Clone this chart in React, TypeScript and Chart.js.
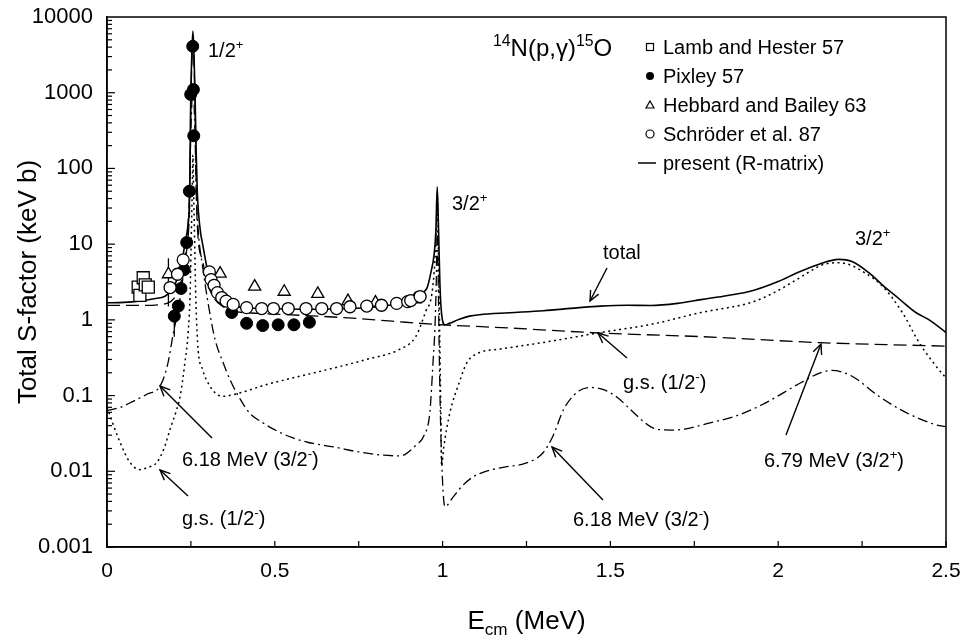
import React, { useEffect, useRef } from "react";
import { Chart, registerables } from "chart.js";
Chart.register(...registerables);

const FONT = "'Liberation Sans', Arial, Helvetica, sans-serif";

// ---- axis ticks ----
const xTickLabels = [0, 0.5, 1, 1.5, 2, 2.5];
const xTickMarks = [0, 0.25, 0.5, 0.75, 1, 1.25, 1.5, 1.75, 2, 2.25, 2.5];
const yTickLabels = [0.001, 0.01, 0.1, 1, 10, 100, 1000, 10000];

// ---- experimental data ----
const lambE = [0.093, 0.098, 0.108, 0.114, 0.123];
const lambS = [2.7, 2.1, 3.6, 2.9, 2.7];
const lambErr = [0.3, 0.3, 0.35, 0.3, 0.3];

const pixleyE = [0.2005, 0.2125, 0.2205, 0.23, 0.2375, 0.2455, 0.2494, 0.2554, 0.2575, 0.2585, 0.3716, 0.416, 0.464, 0.51, 0.557, 0.603];
const pixleyS = [1.12, 1.52, 2.6, 4.6, 10.5, 50, 950, 4100, 1100, 270, 1.25, 0.9, 0.84, 0.86, 0.86, 0.93];
const pixleyErr = [0.52, 0.3, 0.4, 0.6, 1.5, 6, 100, 400, 120, 30, 0.15, 0.12, 0.12, 0.12, 0.12, 0.12];

const hebbardE = [0.183, 0.337, 0.44, 0.528, 0.628, 0.718, 0.8, 0.918];
const hebbardS = [4.0, 4.08, 2.75, 2.35, 2.2, 1.77, 1.69, 1.87];
const hebbardErr = [2.5, 0, 0, 0, 0, 0, 0, 0];

const schroederE = [0.188, 0.21, 0.227, 0.305, 0.31, 0.319, 0.329, 0.342, 0.355, 0.376, 0.416, 0.461, 0.496, 0.54, 0.593, 0.64, 0.684, 0.724, 0.774, 0.818, 0.863, 0.896, 0.905, 0.933];
const schroederS = [2.67, 4.0, 6.2, 4.3, 3.4, 2.86, 2.29, 1.97, 1.77, 1.6, 1.45, 1.41, 1.41, 1.41, 1.41, 1.41, 1.41, 1.49, 1.52, 1.56, 1.65, 1.74, 1.8, 2.03];

// ---- R-matrix curves ----
const totalE = [0, 0.05, 0.1, 0.14, 0.173, 0.19, 0.203, 0.215, 0.222, 0.232, 0.24, 0.245, 0.247, 0.2485, 0.25, 0.253, 0.256, 0.259, 0.262, 0.264, 0.266, 0.269, 0.273, 0.279, 0.285, 0.292, 0.307, 0.332, 0.361, 0.4, 0.45, 0.5, 0.6, 0.7, 0.8, 0.85, 0.9, 0.93, 0.953, 0.965, 0.975, 0.98, 0.984, 0.988, 0.992, 0.997, 1.007, 1.02, 1.05, 1.08, 1.11, 1.2, 1.3, 1.4, 1.47, 1.55, 1.62, 1.7, 1.77, 1.85, 1.92, 2.0, 2.06, 2.12, 2.18, 2.22, 2.27, 2.31, 2.36, 2.41, 2.45, 2.5];
const totalS = [1.68, 1.7, 1.78, 1.9, 2.05, 2.4, 2.95, 4.2, 5.4, 10, 16, 30, 80, 400, 1100, 3500, 6500, 3500, 1100, 400, 150, 50, 25, 14, 10, 6.7, 3.1, 2.07, 1.6, 1.47, 1.42, 1.4, 1.38, 1.4, 1.48, 1.58, 1.8, 2.2, 2.6, 4.2, 7.5, 15, 57, 15, 3, 1.2, 0.86, 0.9, 1.02, 1.12, 1.17, 1.24, 1.32, 1.44, 1.52, 1.56, 1.55, 1.65, 1.85, 2.1, 2.4, 3.2, 4.25, 5.4, 6.3, 5.9, 4.2, 2.9, 1.9, 1.25, 1.0, 0.68];

const gsE = [0, 0.039, 0.069, 0.098, 0.12, 0.148, 0.17, 0.188, 0.205, 0.218, 0.232, 0.242, 0.248, 0.251, 0.254, 0.256, 0.258, 0.261, 0.264, 0.27, 0.285, 0.307, 0.327, 0.347, 0.4, 0.476, 0.574, 0.674, 0.773, 0.873, 0.92, 0.95, 0.968, 0.977, 0.982, 0.984, 0.987, 0.991, 0.995, 0.997, 1.003, 1.022, 1.05, 1.072, 1.11, 1.17, 1.32, 1.47, 1.62, 1.77, 1.92, 1.98, 2.04, 2.1, 2.13, 2.18, 2.22, 2.25, 2.31, 2.37, 2.42, 2.46, 2.5];
const gsS = [0.07, 0.024, 0.013, 0.0105, 0.0112, 0.013, 0.02, 0.036, 0.06, 0.098, 0.27, 0.7, 2.5, 12, 50, 150, 50, 12, 2.5, 0.5, 0.22, 0.133, 0.104, 0.098, 0.11, 0.14, 0.18, 0.23, 0.3, 0.41, 0.6, 1.3, 2.2, 6, 20, 45, 10, 0.8, 0.05, 0.0117, 0.02, 0.06, 0.15, 0.27, 0.37, 0.41, 0.52, 0.68, 0.87, 1.25, 1.7, 2.2, 3.1, 4.5, 5.3, 5.7, 5.2, 4.4, 2.8, 1.25, 0.5, 0.28, 0.17];

const s679E = [0, 0.054, 0.1, 0.163, 0.19, 0.21, 0.225, 0.235, 0.243, 0.247, 0.2485, 0.25, 0.253, 0.256, 0.259, 0.262, 0.264, 0.266, 0.27, 0.285, 0.3, 0.32, 0.345, 0.376, 0.45, 0.575, 0.72, 0.85, 0.982, 1.2, 1.47, 1.77, 2.125, 2.5];
const s679S = [1.55, 1.55, 1.55, 1.6, 1.75, 2.3, 3.8, 7, 15, 50, 250, 800, 2600, 4800, 2600, 800, 250, 50, 15, 6, 3, 1.9, 1.5, 1.31, 1.22, 1.15, 1.06, 0.96, 0.87, 0.78, 0.67, 0.6, 0.5, 0.45];

const s618E = [0, 0.04, 0.078, 0.12, 0.158, 0.18, 0.198, 0.215, 0.23, 0.24, 0.246, 0.249, 0.252, 0.256, 0.26, 0.263, 0.266, 0.272, 0.285, 0.3, 0.322, 0.345, 0.367, 0.4, 0.426, 0.46, 0.496, 0.55, 0.6, 0.675, 0.75, 0.823, 0.873, 0.92, 0.945, 0.962, 0.972, 0.977, 0.981, 0.984, 0.987, 0.991, 0.996, 1.007, 1.03, 1.06, 1.092, 1.12, 1.18, 1.25, 1.3, 1.33, 1.36, 1.4, 1.44, 1.48, 1.52, 1.55, 1.6, 1.63, 1.68, 1.72, 1.8, 1.87, 1.95, 2.07, 2.125, 2.16, 2.22, 2.3, 2.38, 2.48, 2.5];
const s618S = [0.063, 0.07, 0.084, 0.105, 0.133, 0.25, 0.68, 1.6, 5, 15, 50, 200, 600, 1200, 600, 200, 50, 15, 5, 1.8, 0.55, 0.28, 0.16, 0.085, 0.058, 0.045, 0.036, 0.028, 0.024, 0.021, 0.018, 0.0163, 0.016, 0.022, 0.03, 0.06, 0.3, 0.75, 3, 15, 3, 0.2, 0.02, 0.0034, 0.0045, 0.0065, 0.0085, 0.0097, 0.0113, 0.0129, 0.0177, 0.03, 0.065, 0.11, 0.128, 0.12, 0.095, 0.072, 0.045, 0.037, 0.035, 0.036, 0.044, 0.053, 0.075, 0.15, 0.2, 0.215, 0.18, 0.098, 0.06, 0.04, 0.039];

// ---- legend entries ----
const legendLabels = ["Lamb and Hester 57", "Pixley 57", "Hebbard and Bailey 63", "Schröder et al. 87", "present (R-matrix)"];

const toXY = (xs: number[], ys: number[]) => xs.map((x, i) => ({ x, y: ys[i] }));

type Part = { t: string; s?: "sup" | "sub" };

function rich(ctx: CanvasRenderingContext2D, x: number, cy: number, parts: Part[], size: number) {
  let cx = x;
  const base = cy + size * 0.36;
  for (const p of parts) {
    const fs = p.s ? size * 0.66 : size;
    ctx.font = `${fs}px ${FONT}`;
    const dy = p.s === "sup" ? -size * 0.42 : p.s === "sub" ? size * 0.22 : 0;
    ctx.fillText(p.t, cx, base + dy);
    cx += ctx.measureText(p.t).width;
  }
  return cx - x;
}

function arrow(ctx: CanvasRenderingContext2D, x1: number, y1: number, x2: number, y2: number) {
  ctx.beginPath();
  ctx.moveTo(x1, y1);
  ctx.lineTo(x2, y2);
  ctx.stroke();
  const a = Math.atan2(y2 - y1, x2 - x1);
  const L = 11, w = 0.42;
  ctx.beginPath();
  ctx.moveTo(x2 - L * Math.cos(a - w), y2 - L * Math.sin(a - w));
  ctx.lineTo(x2, y2);
  ctx.lineTo(x2 - L * Math.cos(a + w), y2 - L * Math.sin(a + w));
  ctx.stroke();
}

const errorBarPlugin = {
  id: "errbars",
  beforeDatasetsDraw(chart: any) {
    const ctx = chart.ctx;
    const ys = chart.scales.y;
    chart.data.datasets.forEach((ds: any, di: number) => {
      const errs = ds.errors;
      if (!errs) return;
      const meta = chart.getDatasetMeta(di);
      ctx.save();
      ctx.strokeStyle = "#000";
      ctx.lineWidth = 1.3;
      meta.data.forEach((pt: any, i: number) => {
        const e = errs[i];
        if (!e) return;
        const v = ds.data[i].y;
        const top = ys.getPixelForValue(v + e);
        const bot = ys.getPixelForValue(Math.max(v - e, 0.0011));
        ctx.beginPath();
        ctx.moveTo(pt.x, top);
        ctx.lineTo(pt.x, bot);
        ctx.stroke();
      });
      ctx.restore();
    });
  },
};

const decorPlugin = {
  id: "decor",
  afterDraw(chart: any) {
    const ctx: CanvasRenderingContext2D = chart.ctx;
    const a = chart.chartArea;
    const xs = chart.scales.x;
    const ys = chart.scales.y;
    ctx.save();
    ctx.strokeStyle = "#000";
    ctx.fillStyle = "#000";
    // frame
    ctx.lineWidth = 1.5;
    ctx.strokeRect(a.left, a.top, a.right - a.left, a.bottom - a.top);
    // inward ticks
    ctx.lineWidth = 1.2;
    xTickMarks.forEach((v) => {
      const px = xs.getPixelForValue(v);
      ctx.beginPath();
      ctx.moveTo(px, a.bottom);
      ctx.lineTo(px, a.bottom - 6);
      ctx.stroke();
    });
    for (let d = -3; d < 4; d++) {
      for (let m = 1; m <= 9; m++) {
        const py = ys.getPixelForValue(m * Math.pow(10, d));
        ctx.beginPath();
        ctx.moveTo(a.left, py);
        ctx.lineTo(a.left + (m === 1 ? 8 : 5), py);
        ctx.stroke();
      }
    }
    // axis titles
    ctx.textAlign = "left";
    ctx.textBaseline = "alphabetic";
    const tSize = 26;
    const xt: Part[] = [{ t: "E" }, { t: "cm", s: "sub" }, { t: " (MeV)" }];
    let w = 0;
    xt.forEach((p) => {
      ctx.font = `${p.s ? tSize * 0.66 : tSize}px ${FONT}`;
      w += ctx.measureText(p.t).width;
    });
    rich(ctx, (a.left + a.right) / 2 - w / 2, 620, xt, tSize);
    ctx.save();
    ctx.translate(29, (a.top + a.bottom) / 2);
    ctx.rotate(-Math.PI / 2);
    ctx.font = `${tSize}px ${FONT}`;
    ctx.textAlign = "center";
    ctx.textBaseline = "middle";
    ctx.fillText("Total S-factor (keV b)", 0, 0);
    ctx.restore();

    // legend
    ctx.textAlign = "left";
    const lx = 650, tx = 663, rows = [47, 76, 105, 134, 163];
    ctx.lineWidth = 1.2;
    ctx.strokeRect(lx - 3.5, rows[0] - 3.5, 7, 7);
    ctx.beginPath();
    ctx.arc(lx, rows[1], 4, 0, Math.PI * 2);
    ctx.fill();
    ctx.beginPath();
    ctx.moveTo(lx, rows[2] - 4);
    ctx.lineTo(lx + 4, rows[2] + 3);
    ctx.lineTo(lx - 4, rows[2] + 3);
    ctx.closePath();
    ctx.stroke();
    ctx.beginPath();
    ctx.arc(lx, rows[3], 4, 0, Math.PI * 2);
    ctx.stroke();
    ctx.lineWidth = 1.5;
    ctx.beginPath();
    ctx.moveTo(638, rows[4]);
    ctx.lineTo(656, rows[4]);
    ctx.stroke();
    legendLabels.forEach((lab, i) => rich(ctx, tx, rows[i], [{ t: lab }], 20));

    // annotations
    const fs = 20;
    rich(ctx, 208, 50, [{ t: "1/2" }, { t: "+", s: "sup" }], fs);
    rich(ctx, 493, 47, [{ t: "14", s: "sup" }, { t: "N(p," }, { t: "γ" }, { t: ")" }, { t: "15", s: "sup" }, { t: "O" }], 24);
    rich(ctx, 452, 203, [{ t: "3/2" }, { t: "+", s: "sup" }], fs);
    rich(ctx, 603, 252, [{ t: "total" }], fs);
    rich(ctx, 855, 238, [{ t: "3/2" }, { t: "+", s: "sup" }], fs);
    rich(ctx, 623, 382, [{ t: "g.s. (1/2" }, { t: "-", s: "sup" }, { t: ")" }], fs);
    rich(ctx, 182, 459, [{ t: "6.18 MeV (3/2" }, { t: "-", s: "sup" }, { t: ")" }], fs);
    rich(ctx, 182, 518, [{ t: "g.s. (1/2" }, { t: "-", s: "sup" }, { t: ")" }], fs);
    rich(ctx, 764, 460, [{ t: "6.79 MeV (3/2" }, { t: "+", s: "sup" }, { t: ")" }], fs);
    rich(ctx, 573, 519, [{ t: "6.18 MeV (3/2" }, { t: "-", s: "sup" }, { t: ")" }], fs);

    ctx.lineWidth = 1.4;
    arrow(ctx, 607, 268, 590, 301);
    arrow(ctx, 627, 358, 598, 333);
    arrow(ctx, 212, 438, 160, 386);
    arrow(ctx, 188, 496, 160, 470);
    arrow(ctx, 786, 435, 821, 344);
    arrow(ctx, 603, 500, 552, 447);
    ctx.restore();
  },
};

export default function App() {
  const ref = useRef<HTMLCanvasElement | null>(null);
  useEffect(() => {
    if (!ref.current) return;
    Chart.defaults.font.family = FONT;
    const lineDs = (label: string, xs: number[], ys: number[], dash: number[], width: number, order: number) => ({
      label,
      data: toXY(xs, ys),
      showLine: true,
      borderColor: "#000",
      backgroundColor: "#000",
      borderWidth: width,
      borderDash: dash,
      pointRadius: 0,
      cubicInterpolationMode: "monotone" as const,
      order,
    });
    const chart = new Chart(ref.current, {
      type: "scatter",
      data: {
        datasets: [
          {
            label: "Lamb and Hester 57",
            data: toXY(lambE, lambS),
            errors: lambErr,
            pointStyle: "rect",
            pointRadius: 8.5,
            pointBackgroundColor: "#fff",
            pointBorderColor: "#000",
            pointBorderWidth: 1.3,
            order: 0,
          } as any,
          {
            label: "Schröder et al. 87",
            data: toXY(schroederE, schroederS),
            pointStyle: "circle",
            pointRadius: 6,
            pointBackgroundColor: "#fff",
            pointBorderColor: "#000",
            pointBorderWidth: 1.3,
            order: 0,
          },
          {
            label: "Hebbard and Bailey 63",
            data: toXY(hebbardE, hebbardS),
            errors: hebbardErr,
            pointStyle: "triangle",
            pointRadius: 7,
            pointBackgroundColor: "#fff",
            pointBorderColor: "#000",
            pointBorderWidth: 1.3,
            order: 0,
          } as any,
          {
            label: "Pixley 57",
            data: toXY(pixleyE, pixleyS),
            errors: pixleyErr,
            pointStyle: "circle",
            pointRadius: 6,
            pointBackgroundColor: "#000",
            pointBorderColor: "#000",
            pointBorderWidth: 1,
            order: 0,
          } as any,
          lineDs("total", totalE, totalS, [], 1.6, 1),
          lineDs("g.s. (1/2-)", gsE, gsS, [2, 3.5], 1.5, 2),
          lineDs("6.79 MeV (3/2+)", s679E, s679S, [13, 6], 1.3, 3),
          lineDs("6.18 MeV (3/2-)", s618E, s618S, [10, 4, 2, 4], 1.3, 4),
        ],
      },
      options: {
        animation: false,
        responsive: true,
        maintainAspectRatio: false,
        layout: { padding: { top: 17, right: 22, left: 0, bottom: 0 } },
        plugins: { legend: { display: false }, tooltip: { enabled: false } },
        scales: {
          x: {
            type: "linear",
            min: 0,
            max: 2.5,
            afterFit: (s: any) => {
              s.height = 93;
              s.paddingLeft = 0;
              s.paddingRight = 0;
            },
            afterBuildTicks: (axis: any) => {
              axis.ticks = xTickLabels.map((v) => ({ value: v }));
            },
            grid: { display: false, drawTicks: false },
            border: { display: true, color: "#000", width: 1.5 },
            ticks: {
              color: "#000",
              padding: 12,
              font: { size: 21, family: FONT },
              maxRotation: 0,
              callback: (v: any) => String(v),
            },
          },
          y: {
            type: "logarithmic",
            min: 0.001,
            max: 10000,
            afterFit: (s: any) => {
              s.width = 107;
              s.paddingTop = 0;
              s.paddingBottom = 0;
            },
            afterBuildTicks: (axis: any) => {
              axis.ticks = yTickLabels.map((v) => ({ value: v }));
            },
            grid: { display: false, drawTicks: false },
            border: { display: true, color: "#000", width: 1.5 },
            ticks: {
              color: "#000",
              padding: 14,
              font: { size: 22, family: FONT },
              callback: (v: any) => String(v),
            },
          },
        },
      },
      plugins: [errorBarPlugin, decorPlugin],
    } as any);
    return () => chart.destroy();
  }, []);
  return (
    <div style={{ position: "absolute", left: 0, top: 0, width: 968, height: 640, background: "#fff" }}>
      <canvas ref={ref} />
    </div>
  );
}
